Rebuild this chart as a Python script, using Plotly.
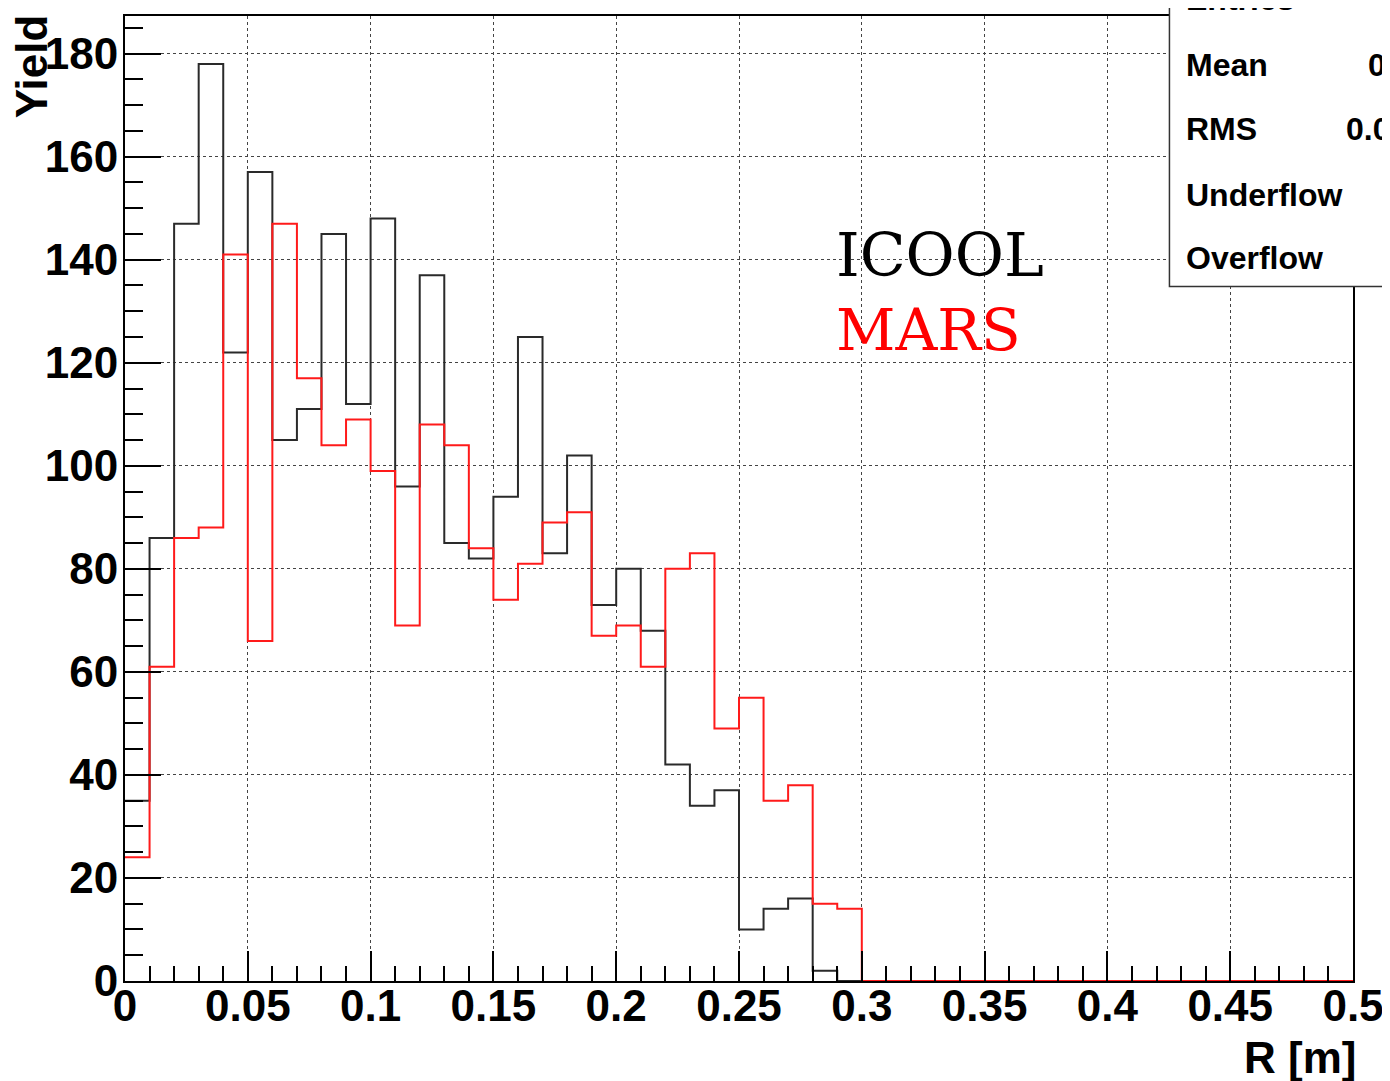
import numpy as np
import plotly.graph_objects as go

# ---- data ----
bin_width = 0.01
n_bins = 50
icool = [35, 86, 147, 178, 122, 157, 105, 111, 145, 112,
         148, 96, 137, 85, 82, 94, 125, 83, 102, 73,
         80, 68, 42, 34, 37, 10, 14, 16, 2, 0,
         0, 0, 0, 0, 0, 0, 0, 0, 0, 0,
         0, 0, 0, 0, 0, 0, 0, 0, 0, 0]
mars = [24, 61, 86, 88, 141, 66, 147, 117, 104, 109,
        99, 69, 108, 104, 84, 74, 81, 89, 91, 67,
        69, 61, 80, 83, 49, 55, 35, 38, 15, 14,
        0, 0, 0, 0, 0, 0, 0, 0, 0, 0,
        0, 0, 0, 0, 0, 0, 0, 0, 0, 0]
stats_labels = ["Entries", "Mean", "RMS", "Underflow", "Overflow"]
stats_values = ["", "0.1225", "0.0701", "", ""]

edges = np.round(np.arange(n_bins + 1) * bin_width, 6)

# page has an 8px body margin: shrink the figure so the page does not overflow
OFF = 8
W, H = 1390 - OFF, 1081 - OFF
L, R, T, B = 125, 1356, 14, 981   # plot area in page pixels

def px(x):
    return (x - L) / (R - L)

def py(y):
    return (B - y) / (B - T)

def step(vals):
    return list(edges), list(vals) + [vals[-1]]

fig = go.Figure()
for vals, col in [(icool, "#2a2a2a"), (mars, "#ff1a1a")]:
    xs, ys = step(vals)
    fig.add_trace(go.Scatter(x=xs, y=ys, mode="lines", line_shape="hv",
                             line=dict(color=col, width=2), showlegend=False,
                             hoverinfo="skip"))

tickfont = dict(family="Liberation Sans, Arial, sans-serif", size=44, color="black", weight="bold")

fig.update_layout(
    width=W, height=H,
    margin=dict(l=L - OFF, r=1390 - R, t=T - OFF, b=1081 - B),
    paper_bgcolor="white", plot_bgcolor="white",
    showlegend=False,
    xaxis=dict(range=[0, 0.5], tickmode="linear", tick0=0, dtick=0.05,
               ticks="inside", ticklen=30, tickwidth=1.5, tickcolor="black",
               minor=dict(dtick=0.01, ticks="inside", ticklen=15, tickwidth=1.5,
                          tickcolor="black", showgrid=False),
               showgrid=True, gridcolor="#444", griddash="dot", gridwidth=1,
               zeroline=False, showline=True, linecolor="black", linewidth=2,
               mirror=True, tickfont=tickfont, ticklabelstandoff=-15),
    yaxis=dict(range=[0, 187.3], tickmode="linear", tick0=0, dtick=20,
               ticks="inside", ticklen=36, tickwidth=1.5, tickcolor="black",
               minor=dict(dtick=5, ticks="inside", ticklen=18, tickwidth=1.5,
                          tickcolor="black", showgrid=False),
               showgrid=True, gridcolor="#444", griddash="dot", gridwidth=1,
               zeroline=False, showline=True, linecolor="black", linewidth=2,
               mirror=True, tickfont=tickfont, ticklabelstandoff=-4),
)

shapes = []
# white legend background hiding grid
shapes.append(dict(type="rect", xref="paper", yref="paper",
                   x0=px(720), x1=px(1097), y0=py(380), y1=py(200),
                   fillcolor="white", line=dict(width=0), layer="below"))
# stats box
shapes.append(dict(type="rect", xref="paper", yref="paper",
                   x0=px(1172), x1=px(1420), y0=py(285), y1=py(-20),
                   fillcolor="white", line=dict(color="#333", width=1.5), layer="above"))
fig.update_layout(shapes=shapes)

ann = []
ann.append(dict(text="ICOOL", xref="paper", yref="paper", x=px(836), y=py(253),
                xanchor="left", yanchor="middle", showarrow=False,
                font=dict(family="DejaVu Serif", size=60, color="black")))
ann.append(dict(text="MARS", xref="paper", yref="paper", x=px(836), y=py(329),
                xanchor="left", yanchor="middle", showarrow=False,
                font=dict(family="DejaVu Serif", size=58, color="#ff0000")))
ann.append(dict(text="Yield", xref="paper", yref="paper", x=px(31), y=py(10),
                xanchor="center", yanchor="top", textangle=-90, showarrow=False,
                font=tickfont))
ann.append(dict(text="R [m]", xref="paper", yref="paper", x=px(1361), y=py(1058),
                xanchor="right", yanchor="middle", showarrow=False,
                font=tickfont))
sfont = dict(family="Liberation Sans, Arial, sans-serif", size=32, color="black", weight="bold")
rows_y = [-3, 63, 127, 193, 257]
for lab, val, yy in zip(stats_labels, stats_values, rows_y):
    ann.append(dict(text=lab, xref="paper", yref="paper", x=px(1187), y=py(yy),
                    xanchor="left", yanchor="middle", showarrow=False, font=sfont))
val_x = {"Mean": 1369, "RMS": 1347}
for lab, val, yy in zip(stats_labels, stats_values, rows_y):
    if val:
        ann.append(dict(text=val, xref="paper", yref="paper", x=px(val_x[lab]), y=py(yy),
                        xanchor="left", yanchor="middle", showarrow=False, font=sfont))
fig.update_layout(annotations=ann)

fig.write_html("out.html")
